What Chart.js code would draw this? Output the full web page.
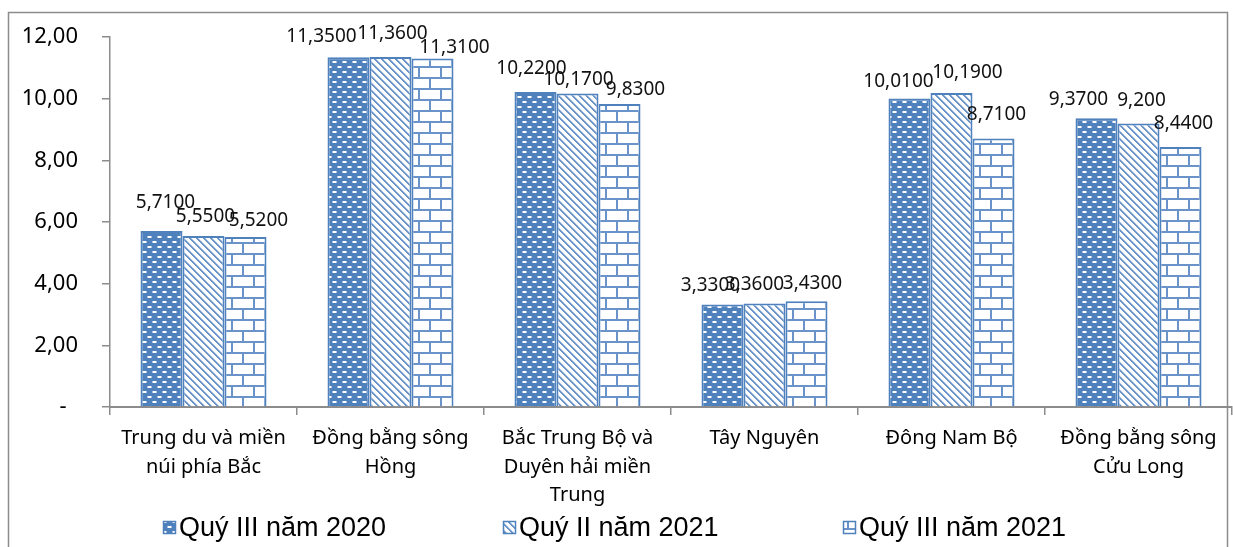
<!DOCTYPE html>
<html>
<head>
<meta charset="utf-8">
<script src="https://cdn.jsdelivr.net/npm/chart.js@4/dist/chart.umd.min.js"></script>
<style>
  html, body { margin: 0; padding: 0; background: #fff; }
</style>
</head>
<body>
<canvas id="regions" width="1233" height="547"></canvas>
<script>
// regions and series
const categories = [
  ["Trung du và miền", "núi phía Bắc"],
  ["Đồng bằng sông", "Hồng"],
  ["Bắc Trung Bộ và", "Duyên hải miền", "Trung"],
  "Tây Nguyên",
  "Đông Nam Bộ",
  ["Đồng bằng sông", "Cửu Long"],
];
const seriesNames = ["Quý III năm 2020", "Quý II năm 2021", "Quý III năm 2021"];
const q3y2020 = [5.71, 11.35, 10.22, 3.33, 10.01, 9.37];
const q2y2021 = [5.55, 11.36, 10.17, 3.36, 10.19, 9.2];
const q3y2021 = [5.52, 11.31, 9.83, 3.43, 8.71, 8.44];
// decimals shown in each value label
const labelDigits = [
  [4, 4, 4, 4, 4, 4],
  [4, 4, 4, 4, 4, 3],
  [4, 4, 4, 4, 4, 4],
];
const yTicks = [0, 2, 4, 6, 8, 10, 12];

const BLUE = "#4f81bd";
const LINE = "#6a93c9";

// label nudges (px) so overlapping labels sit like the spreadsheet placed them
const labelShift = [
  [[4, -28], [-27, -21], [-4, -23], [-12, -19], [-11, -17], [-18, -19]],
  [[2, -19], [2, -23], [1, -14], [-10, -19], [16, -20], [3, -23]],
  [[13, -16], [22, -11], [16, -14], [6, -18], [3, -24], [3, -23]],
];

// fill patterns
function makePattern(kind) {
  const c = document.createElement("canvas");
  const g = c.getContext("2d");
  if (kind === "dash") {
    c.width = 10; c.height = 10;
    g.fillStyle = BLUE;
    g.fillRect(0, 0, 10, 10);
    g.fillStyle = "#ffffff";
    g.fillRect(3, 1, 3, 2);
    g.fillRect(8, 6, 2, 2);
    g.fillRect(0, 6, 1, 2);
    g.fillStyle = "#a9c0e2";
    g.fillRect(2, 1, 1, 2); g.fillRect(6, 1, 1, 2);
    g.fillRect(7, 6, 1, 2); g.fillRect(1, 6, 1, 2);
  } else if (kind === "diag") {
    c.width = 7; c.height = 7;
    g.fillStyle = "#fff";
    g.fillRect(0, 0, 7, 7);
    for (let y = 0; y < 7; y++) {
      for (let x = 0; x < 7; x++) {
        const k = (x - y + 14) % 7;
        if (k < 2) { g.fillStyle = LINE; g.fillRect(x, y, 1, 1); }
        else if (k === 2) { g.fillStyle = "#b9cce6"; g.fillRect(x, y, 1, 1); }
      }
    }
  } else {
    c.width = 22; c.height = 22;
    g.fillStyle = "#fff";
    g.fillRect(0, 0, 22, 22);
    g.fillStyle = LINE;
    g.fillRect(0, 0, 22, 2);
    g.fillRect(0, 11, 22, 2);
    g.fillRect(0, 0, 2, 11);
    g.fillRect(11, 11, 2, 11);
  }
  return g.createPattern(c, "repeat");
}

const patterns = [makePattern("dash"), makePattern("diag"), makePattern("brick")];

const fmt = (v, d) => v.toFixed(d).replace(".", ",");

// outer frame
const framePlugin = {
  id: "frame",
  beforeDraw(chart) {
    const ctx = chart.ctx;
    ctx.save();
    ctx.strokeStyle = "#8c8c8c";
    ctx.lineWidth = 1.5;
    ctx.strokeRect(8.5, 12.5, 1219, 600);
    ctx.restore();
  },
};

// value labels above bars
const valueLabels = {
  id: "valueLabels",
  afterDatasetsDraw(chart) {
    const ctx = chart.ctx;
    ctx.save();
    ctx.font = '19px "Noto Sans"';
    ctx.fillStyle = "#111";
    ctx.textAlign = "center";
    ctx.textBaseline = "middle";
    chart.data.datasets.forEach((ds, i) => {
      chart.getDatasetMeta(i).data.forEach((bar, j) => {
        const [dx, dy] = labelShift[i][j];
        ctx.fillText(fmt(ds.data[j], labelDigits[i][j]), bar.x + dx, bar.y + dy);
      });
    });
    ctx.restore();
  },
};

// legend along the bottom
const bottomLegend = {
  id: "bottomLegend",
  afterDraw(chart) {
    const ctx = chart.ctx;
    const starts = [163, 503, 843];
    ctx.save();
    ctx.font = '27px "Liberation Sans"';
    ctx.textBaseline = "middle";
    seriesNames.forEach((name, i) => {
      const x = starts[i];
      ctx.fillStyle = patterns[i];
      ctx.fillRect(x, 521, 13, 13);
      ctx.strokeStyle = BLUE;
      ctx.lineWidth = 1.5;
      ctx.strokeRect(x + 0.5, 521.5, 12, 12);
      ctx.fillStyle = "#000";
      ctx.fillText(name, x + 16, 529);
    });
    ctx.restore();
  },
};

new Chart(document.getElementById("regions"), {
  type: "bar",
  data: {
    labels: categories,
    datasets: [q3y2020, q2y2021, q3y2021].map((values, i) => ({
      label: seriesNames[i],
      data: values,
      backgroundColor: patterns[i],
      borderColor: BLUE,
      borderWidth: 2,
      categoryPercentage: 0.674,
      barPercentage: 1,
    })),
  },
  options: {
    responsive: false,
    animation: false,
    layout: { padding: { top: 34, right: 1, left: 0, bottom: 0 } },
    plugins: { legend: { display: false }, tooltip: { enabled: false } },
    scales: {
      x: {
        offset: true,
        grid: {
          offset: true,
          drawOnChartArea: false,
          tickLength: 8,
          color: "#8c8c8c",
          lineWidth: 1.5,
        },
        border: { color: "#8c8c8c", width: 2 },
        ticks: {
          color: "#000",
          font: { family: "Noto Sans", size: 20, lineHeight: 1.43 },
          padding: 9,
          maxRotation: 0,
          autoSkip: false,
        },
        afterFit: (s) => { s.height = 140; },
      },
      y: {
        min: 0,
        max: 12,
        afterBuildTicks: (s) => { s.ticks = yTicks.map((v) => ({ value: v })); },
        grid: { drawOnChartArea: false, tickLength: 8, color: "#8c8c8c", lineWidth: 1.5 },
        border: { color: "#8c8c8c", width: 1.5 },
        ticks: {
          color: "#000",
          font: { family: "Noto Sans", size: 22 },
          padding: 24,
          callback: (v) => (v === 0 ? "-  " : fmt(v, 2)),
        },
        afterFit: (s) => { s.width = 110; },
      },
    },
  },
  plugins: [framePlugin, valueLabels, bottomLegend],
});
</script>
</body>
</html>
